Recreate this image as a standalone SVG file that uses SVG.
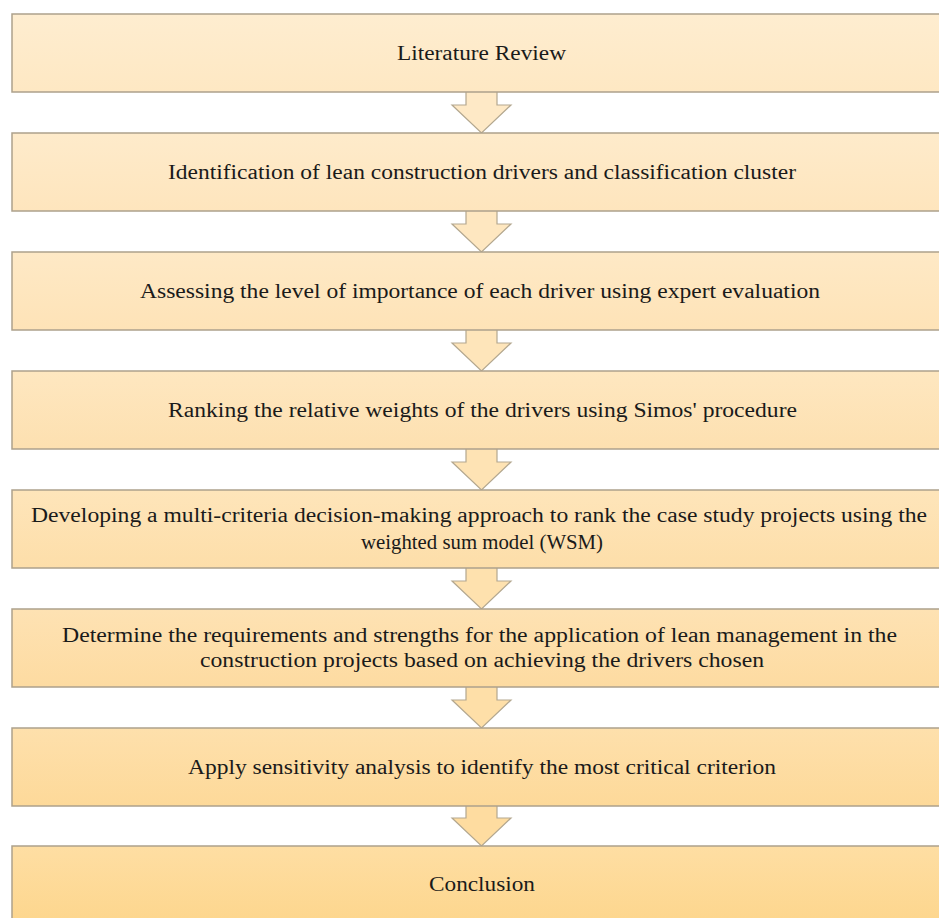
<svg xmlns="http://www.w3.org/2000/svg" width="939" height="918" viewBox="0 0 939 918">
<style>
.box{stroke:#ADA18C;stroke-width:1.5}
.arr{stroke:#B3A78F;stroke-width:1.2}
.t{font-family:"Liberation Serif","DejaVu Serif",serif;font-size:20px;fill:#1a1a1a;text-anchor:middle}
</style>
<defs>
<linearGradient id="g0" x1="0" y1="0" x2="0" y2="1"><stop offset="0" stop-color="#FEEDD0"/><stop offset="1" stop-color="#FEE8C3"/></linearGradient>
<linearGradient id="g1" x1="0" y1="0" x2="0" y2="1"><stop offset="0" stop-color="#FEEBCB"/><stop offset="1" stop-color="#FEE5BD"/></linearGradient>
<linearGradient id="g2" x1="0" y1="0" x2="0" y2="1"><stop offset="0" stop-color="#FEE9C6"/><stop offset="1" stop-color="#FEE3B7"/></linearGradient>
<linearGradient id="g3" x1="0" y1="0" x2="0" y2="1"><stop offset="0" stop-color="#FEE7C0"/><stop offset="1" stop-color="#FDE0B0"/></linearGradient>
<linearGradient id="g4" x1="0" y1="0" x2="0" y2="1"><stop offset="0" stop-color="#FEE5BA"/><stop offset="1" stop-color="#FDDEA9"/></linearGradient>
<linearGradient id="g5" x1="0" y1="0" x2="0" y2="1"><stop offset="0" stop-color="#FEE2B3"/><stop offset="1" stop-color="#FDDBA1"/></linearGradient>
<linearGradient id="g6" x1="0" y1="0" x2="0" y2="1"><stop offset="0" stop-color="#FEE0AC"/><stop offset="1" stop-color="#FDD999"/></linearGradient>
<linearGradient id="g7" x1="0" y1="0" x2="0" y2="1"><stop offset="0" stop-color="#FEDEA3"/><stop offset="1" stop-color="#FDD68D"/></linearGradient>
</defs>
<rect width="939" height="918" fill="#ffffff"/>
<g id="connectors">
<polygon class="arr" fill="#FEE9C6" points="466,90 497,90 497,105 511,105 481.5,133 452,105 466,105"/>
<polygon class="arr" fill="#FEE7C0" points="466,209 497,209 497,224 511,224 481.5,252 452,224 466,224"/>
<polygon class="arr" fill="#FEE5BA" points="466,328 497,328 497,343 511,343 481.5,371 452,343 466,343"/>
<polygon class="arr" fill="#FEE3B4" points="466,447 497,447 497,462 511,462 481.5,490 452,462 466,462"/>
<polygon class="arr" fill="#FEE1AE" points="466,566 497,566 497,581 511,581 481.5,609 452,581 466,581"/>
<polygon class="arr" fill="#FEDFA8" points="466,685 497,685 497,700 511,700 481.5,728 452,700 466,700"/>
<polygon class="arr" fill="#FEDCA0" points="466,804 497,804 497,818 511,818 481.5,846 452,818 466,818"/>
</g>
<g id="n1"><rect class="box" x="12" y="14" width="940" height="78" fill="url(#g0)"/><text class="t" x="481.5" y="60" textLength="169" lengthAdjust="spacingAndGlyphs">Literature Review</text></g>
<g id="n2"><rect class="box" x="12" y="133" width="940" height="78" fill="url(#g1)"/><text class="t" x="482" y="179" textLength="628" lengthAdjust="spacingAndGlyphs">Identification of lean construction drivers and classification cluster</text></g>
<g id="n3"><rect class="box" x="12" y="252" width="940" height="78" fill="url(#g2)"/><text class="t" x="480" y="298" textLength="680" lengthAdjust="spacingAndGlyphs">Assessing the level of importance of each driver using expert evaluation</text></g>
<g id="n4"><rect class="box" x="12" y="371" width="940" height="78" fill="url(#g3)"/><text class="t" x="482.5" y="417" textLength="629" lengthAdjust="spacingAndGlyphs">Ranking the relative weights of the drivers using Simos' procedure</text></g>
<g id="n5"><rect class="box" x="12" y="490" width="940" height="78" fill="url(#g4)"/><text class="t" x="479" y="522" textLength="896" lengthAdjust="spacingAndGlyphs">Developing a multi-criteria decision-making approach to rank the case study projects using the</text><text class="t" x="482" y="549" textLength="242" lengthAdjust="spacingAndGlyphs">weighted sum model (WSM)</text></g>
<g id="n6"><rect class="box" x="12" y="609" width="940" height="78" fill="url(#g5)"/><text class="t" x="479.5" y="642" textLength="835" lengthAdjust="spacingAndGlyphs">Determine the requirements and strengths for the application of lean management in the</text><text class="t" x="482" y="667" textLength="564" lengthAdjust="spacingAndGlyphs">construction projects based on achieving the drivers chosen</text></g>
<g id="n7"><rect class="box" x="12" y="728" width="940" height="78" fill="url(#g6)"/><text class="t" x="482" y="774" textLength="588" lengthAdjust="spacingAndGlyphs">Apply sensitivity analysis to identify the most critical criterion</text></g>
<g id="n8"><rect class="box" x="12" y="846" width="940" height="78" fill="url(#g7)"/><text class="t" x="482" y="891" textLength="106" lengthAdjust="spacingAndGlyphs">Conclusion</text></g>
</svg>
